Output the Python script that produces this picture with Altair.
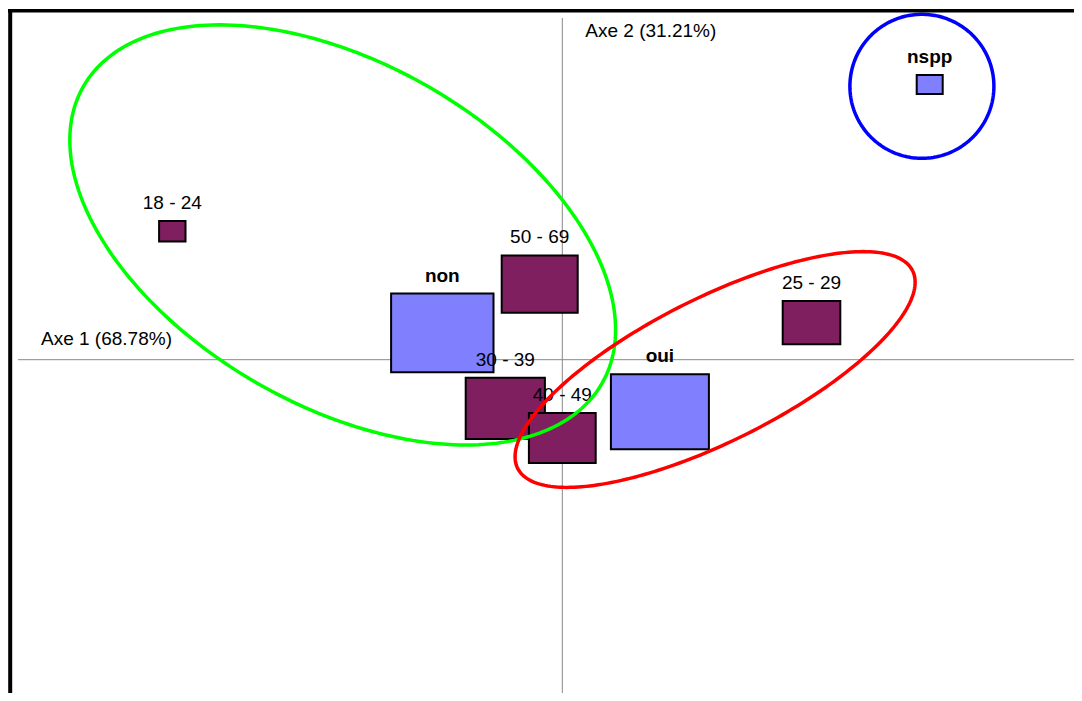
import altair as alt
import numpy as np
import pandas as pd

# ---- data (correspondence analysis coordinates) ----
labels = ["18 - 24", "25 - 29", "30 - 39", "40 - 49", "50 - 69", "non", "oui", "nspp"]
kinds = ["age", "age", "age", "age", "age", "answer", "answer", "answer"]
coord1 = [-0.975, 0.623, -0.1425, 0.0, -0.0565, -0.300, 0.244, 0.9185]
coord2 = [0.321, 0.0925, -0.1215, -0.196, 0.189, 0.067, -0.130, 0.688]
box_w = [0.066, 0.144, 0.198, 0.167, 0.190, 0.256, 0.245, 0.065]
box_h = [0.051, 0.108, 0.153, 0.125, 0.1435, 0.1965, 0.1875, 0.0475]
kind_colors = {"age": "#7f1f5f", "answer": "#8080ff"}

axis1_title = "Axe 1 (68.78%)"
axis2_title = "Axe 2 (31.21%)"

ell_names = ["g1", "g2", "g3"]
ell_cx = [-0.549, 0.382, 0.899]
ell_cy = [0.312, -0.0245, 0.6835]
ell_a = [0.747, 0.552, 0.180]
ell_b = [0.428, 0.1795, 0.180]
ell_angle = [-29.8, 26.6, 0.0]
ell_colors = ["#00ff00", "#ff0000", "#0000ff"]

# ---- tables ----
pts = pd.DataFrame({
    "label": labels, "kind": kinds, "x": coord1, "y": coord2,
    "w": box_w, "h": box_h,
})
pts["x1"] = pts["x"] - pts["w"] / 2
pts["x2"] = pts["x"] + pts["w"] / 2
pts["y1"] = pts["y"] - pts["h"] / 2
pts["y2"] = pts["y"] + pts["h"] / 2
pts["fill"] = pts["kind"].map(kind_colors)

rows = []
t = np.linspace(0, 2 * np.pi, 241)
for n, cx, cy, a, b, ang, col in zip(ell_names, ell_cx, ell_cy, ell_a, ell_b, ell_angle, ell_colors):
    p = np.deg2rad(ang)
    xs = cx + a * np.cos(t) * np.cos(p) - b * np.sin(t) * np.sin(p)
    ys = cy + a * np.cos(t) * np.sin(p) + b * np.sin(t) * np.cos(p)
    for i, (xx, yy) in enumerate(zip(xs, ys)):
        rows.append({"ell": n, "i": i, "x": xx, "y": yy, "col": col})
ell = pd.DataFrame(rows)

origin = pd.DataFrame({"ox": [0.0], "oy": [0.0],
                       "t1": [axis1_title], "t2": [axis2_title]})

W, H = 1066, 685
xscale = alt.Scale(domain=[-1.38575, 1.27925], nice=False, zero=False)
yscale = alt.Scale(domain=[-0.83325, 0.87925], nice=False, zero=False)
FONT = "Liberation Sans"

base = alt.Chart(pts)

rects = base.mark_rect(stroke="black", strokeWidth=2).encode(
    x=alt.X("x1:Q", scale=xscale, axis=None),
    x2="x2:Q",
    y=alt.Y("y1:Q", scale=yscale, axis=None),
    y2="y2:Q",
    color=alt.Color("fill:N", scale=None),
)

txt_age = base.transform_filter(alt.datum.kind == "age").mark_text(
    font=FONT, fontSize=19, baseline="alphabetic", align="center", dy=-12, color="black"
).encode(x=alt.X("x:Q", scale=xscale, axis=None), y=alt.Y("y2:Q", scale=yscale, axis=None), text="label:N")

txt_ans = base.transform_filter(alt.datum.kind == "answer").mark_text(
    font=FONT, fontSize=19, fontWeight="bold", baseline="alphabetic", align="center", dy=-12, color="black"
).encode(x=alt.X("x:Q", scale=xscale, axis=None), y=alt.Y("y2:Q", scale=yscale, axis=None), text="label:N")

ellipses = alt.Chart(ell).mark_line(strokeWidth=3.5).encode(
    x=alt.X("x:Q", scale=xscale, axis=None),
    y=alt.Y("y:Q", scale=yscale, axis=None),
    order="i:Q",
    detail="ell:N",
    color=alt.Color("col:N", scale=None),
)

ob = alt.Chart(origin)
hrule = ob.mark_rule(color="#888888", strokeWidth=1).encode(
    x=alt.value(10), x2=alt.value(W), y=alt.Y("oy:Q", scale=yscale, axis=None)
)
vrule = ob.mark_rule(color="#888888", strokeWidth=1).encode(
    x=alt.X("ox:Q", scale=xscale, axis=None), y=alt.value(10), y2=alt.value(H)
)
frame_top = ob.mark_rule(color="black", strokeWidth=3.5).encode(
    x=alt.value(0), x2=alt.value(W), y=alt.value(2.7)
)
frame_left = ob.mark_rule(color="black", strokeWidth=4).encode(
    x=alt.value(2.2), y=alt.value(1), y2=alt.value(H)
)
ax1 = ob.mark_text(
    font=FONT, fontSize=19, align="left", baseline="alphabetic", dy=-15, color="black"
).encode(x=alt.value(33), y=alt.Y("oy:Q", scale=yscale, axis=None), text="t1:N")
ax2 = ob.mark_text(
    font=FONT, fontSize=19, align="left", baseline="alphabetic", dx=23, color="black"
).encode(x=alt.X("ox:Q", scale=xscale, axis=None), y=alt.value(28.5), text="t2:N")

chart = alt.layer(hrule, vrule, ax1, ax2, rects, txt_age, txt_ans, ellipses,
                  frame_top, frame_left).properties(
    width=W, height=H,
    autosize=alt.AutoSizeParams(type="none"),
    padding=0,
    background="white",
).configure_view(strokeWidth=0, stroke="transparent")

chart.save("out.html", embed_options={"renderer": "svg", "actions": False})
